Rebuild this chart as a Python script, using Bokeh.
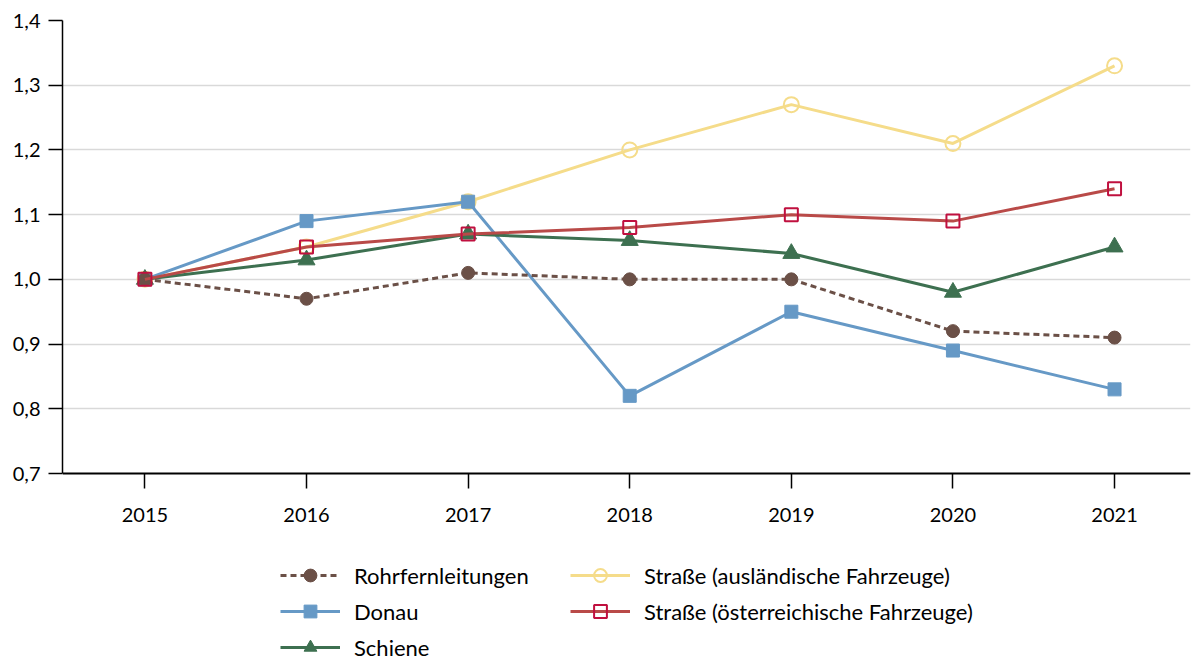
from bokeh.plotting import figure
from bokeh.models import (Legend, LegendItem, FixedTicker, CustomJSTickFormatter,
                          Range1d, LinearAxis)
from bokeh.embed import file_html
from bokeh.resources import INLINE

years = [2015, 2016, 2017, 2018, 2019, 2020, 2021]
rohr = [1.00, 0.97, 1.01, 1.00, 1.00, 0.92, 0.91]
donau = [1.00, 1.09, 1.12, 0.82, 0.95, 0.89, 0.83]
schiene = [1.00, 1.03, 1.07, 1.06, 1.04, 0.98, 1.05]
strasse_ausl = [1.00, 1.05, 1.12, 1.20, 1.27, 1.21, 1.33]
strasse_oest = [1.00, 1.05, 1.07, 1.08, 1.10, 1.09, 1.14]
y_ticks = [0.7, 0.8, 0.9, 1.0, 1.1, 1.2, 1.3, 1.4]
grid_ticks = [0.8, 0.9, 1.0, 1.1, 1.2, 1.3]

FONT = "Lato"
W, H = 1192, 659
TOP, LEFT = 20, 62
AXIS_PX = 453          # pixel height of the 0.7..1.4 value axis
Y_MIN, Y_MAX = y_ticks[0], y_ticks[-1]
extra = (H - TOP - AXIS_PX) / AXIS_PX * (Y_MAX - Y_MIN)

p = figure(width=W, height=H, output_backend="svg", toolbar_location=None,
           x_range=Range1d(2014.49, 2021.47), y_range=Range1d(Y_MIN - extra, Y_MAX),
           min_border_left=LEFT, min_border_right=2, min_border_top=TOP,
           min_border_bottom=0, x_axis_location=None)
p.outline_line_color = None
p.background_fill_color = "white"
p.border_fill_color = "white"

# x axis drawn at value 0.7
xaxis = LinearAxis(fixed_location=Y_MIN, ticker=FixedTicker(ticks=years),
                   bounds=(2014.49, 2021.47))
xaxis.major_tick_out = 15
xaxis.major_tick_in = 0
xaxis.minor_tick_line_color = None
xaxis.axis_line_width = 2
xaxis.axis_line_color = "black"
xaxis.major_tick_line_color = "black"
xaxis.major_tick_line_width = 1.5
xaxis.major_label_text_font = FONT
xaxis.major_label_text_font_size = "20px"
xaxis.major_label_text_color = "black"
xaxis.major_label_standoff = 19
p.add_layout(xaxis, "below")

p.yaxis.ticker = FixedTicker(ticks=y_ticks)
p.yaxis.bounds = (Y_MIN, Y_MAX)
p.yaxis.formatter = CustomJSTickFormatter(code="return tick.toFixed(1).replace('.', ',');")
p.yaxis.major_tick_out = 14
p.yaxis.major_tick_in = 0
p.yaxis.minor_tick_line_color = None
p.yaxis.axis_line_width = 1.5
p.yaxis.axis_line_color = "black"
p.yaxis.major_tick_line_color = "black"
p.yaxis.major_tick_line_width = 1.5
p.yaxis.major_label_text_font = FONT
p.yaxis.major_label_text_font_size = "20px"
p.yaxis.major_label_text_color = "black"
p.yaxis.major_label_standoff = 8

p.xgrid.grid_line_color = None
p.ygrid.ticker = FixedTicker(ticks=grid_ticks)
p.ygrid.grid_line_color = "#D9D9D9"
p.ygrid.grid_line_width = 1.5

LW = 3

# series
l_ausl = p.line(years, strasse_ausl, line_color="#F5DC8A", line_width=LW)
s_ausl = p.scatter(years, strasse_ausl, marker="circle", size=15, fill_color=None,
                   line_color="#F5DC8A", line_width=2)

l_don = p.line(years, donau, line_color="#6699C6", line_width=LW)
s_don = p.scatter(years, donau, marker="square", size=13, fill_color="#6699C6",
                  line_color="#6699C6")

l_sch = p.line(years, schiene, line_color="#3D7050", line_width=LW)
s_sch = p.scatter(years, schiene, marker="triangle", size=17, fill_color="#3D7050",
                  line_color="#3D7050")

l_rohr = p.line(years, rohr, line_color="#6B5047", line_width=LW, line_dash="6 4")
s_rohr = p.scatter(years, rohr, marker="circle", size=13, fill_color="#6B5047",
                   line_color="#6B5047")

l_oest = p.line(years, strasse_oest, line_color="#B94A48", line_width=LW)
s_oest = p.scatter(years, strasse_oest, marker="square", size=13, fill_color=None,
                   line_color="#C0103F", line_width=2)

legend = Legend(items=[
    LegendItem(label="Rohrfernleitungen", renderers=[l_rohr, s_rohr]),
    LegendItem(label="Donau", renderers=[l_don, s_don]),
    LegendItem(label="Schiene", renderers=[l_sch, s_sch]),
    LegendItem(label="Straße (ausländische Fahrzeuge)", renderers=[l_ausl, s_ausl]),
    LegendItem(label="Straße (österreichische Fahrzeuge)", renderers=[l_oest, s_oest]),
], nrows=3, location=(218, -4), orientation="vertical",
    glyph_width=60, glyph_height=32, label_standoff=14, spacing=4,
    label_width=212,
    label_text_font=FONT, label_text_font_size="22px", label_text_color="black",
    label_height=32, border_line_color=None, background_fill_alpha=0,
    padding=0, margin=0)
p.add_layout(legend, "center")

open("out.html", "w").write(file_html(p, INLINE))
